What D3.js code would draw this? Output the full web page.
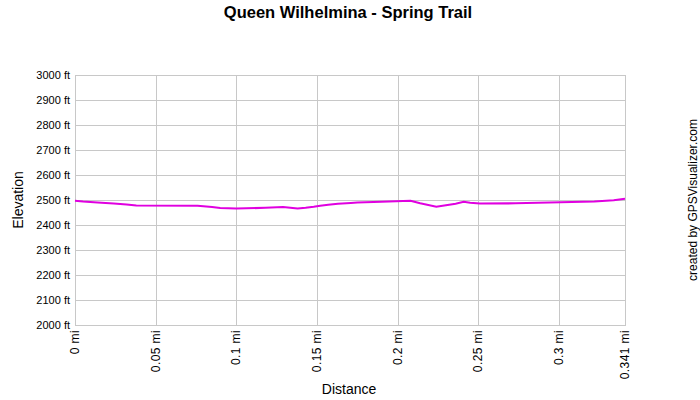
<!DOCTYPE html>
<html><head><meta charset="utf-8">
<script src="https://cdn.jsdelivr.net/npm/d3@7"></script>
<style>body{margin:0;background:#fff}svg{display:block;font-family:Arial,"Liberation Sans",sans-serif}</style>
</head><body>
<svg id="c" width="700" height="400"></svg>
<script>
const distances = [0,0.005,0.014,0.024,0.032,0.038,0.076,0.085,0.090,0.100,0.118,0.129,0.135,0.138,0.143,0.148,0.152,0.157,0.163,0.171,0.175,0.190,0.208,0.214,0.224,0.236,0.241,0.245,0.251,0.273,0.301,0.322,0.334,0.341];
const elevations = [2497,2494,2490,2486,2482,2478,2477,2472,2468,2466,2469,2472,2468,2466,2469,2473,2477,2481,2485,2488,2490,2493,2497,2487,2473,2485,2493,2489,2486,2487,2491,2494,2499,2505];
const xTicks = [0,0.05,0.1,0.15,0.2,0.25,0.3,0.341];
const xTickLabels = ["0 mi","0.05 mi","0.1 mi","0.15 mi","0.2 mi","0.25 mi","0.3 mi","0.341 mi"];
const yTicks = [2000,2100,2200,2300,2400,2500,2600,2700,2800,2900,3000];
const yTickLabels = yTicks.map(v => v + " ft");

const svg = d3.select("#c");
const L=75,R=625,T=75,B=325;
const x = d3.scaleLinear().domain([0,0.341]).range([L,R]);
const y = d3.scaleLinear().domain([2000,3000]).range([B,T]);

// grid
svg.append("g").selectAll("line").data(yTicks).join("line")
  .attr("x1",L).attr("x2",R).attr("y1",d=>Math.round(y(d))+0.5).attr("y2",d=>Math.round(y(d))+0.5)
  .attr("stroke","#c8c8c8").attr("stroke-width",1);
svg.append("g").selectAll("line").data(xTicks).join("line")
  .attr("y1",T).attr("y2",B).attr("x1",d=>Math.round(x(d))+0.5).attr("x2",d=>Math.round(x(d))+0.5)
  .attr("stroke","#c8c8c8").attr("stroke-width",1);
svg.append("rect").attr("x",L+0.5).attr("y",T+0.5).attr("width",R-L).attr("height",B-T)
  .attr("fill","none").attr("stroke","#c8c8c8");

// y labels
svg.append("g").selectAll("text").data(yTicks).join("text")
  .attr("x",L-5).attr("y",d=>y(d)+4).attr("text-anchor","end")
  .attr("font-size",11).attr("fill","#000").text((d,i)=>yTickLabels[i]);
// x labels
svg.append("g").selectAll("text").data(xTicks).join("text")
  .attr("transform",d=>`translate(${x(d)+4},330) rotate(-90)`).attr("text-anchor","end")
  .attr("font-size",12).attr("letter-spacing",0.4).attr("fill","#000").text((d,i)=>xTickLabels[i]);

// line
const line = d3.line().x(d=>x(d[0])).y(d=>y(d[1]));
svg.append("path").datum(distances.map((d,i)=>[d,elevations[i]]))
  .attr("d",line).attr("fill","none").attr("stroke","#e000e0").attr("stroke-width",2.2);

// titles
svg.append("text").attr("x",348).attr("y",18).attr("text-anchor","middle")
  .attr("font-size",16.5).attr("font-weight","bold").text("Queen Wilhelmina - Spring Trail");
svg.append("text").attr("x",349).attr("y",394).attr("text-anchor","middle")
  .attr("font-size",14).text("Distance");
svg.append("text").attr("transform","translate(23,200) rotate(-90)").attr("text-anchor","middle")
  .attr("font-size",14).text("Elevation");
svg.append("text").attr("transform","translate(697,200) rotate(-90)").attr("text-anchor","middle")
  .attr("font-size",12).text("created by GPSVisualizer.com");
</script>
</body></html>
